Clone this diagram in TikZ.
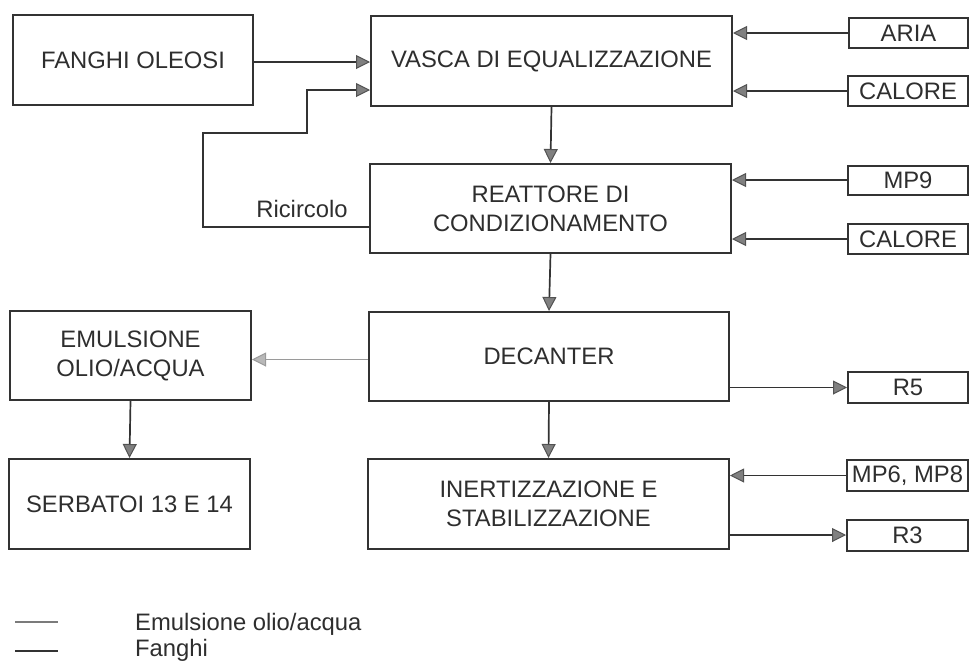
\documentclass[tikz,border=0pt]{standalone}
\usepackage{fontspec}
\setmainfont{Liberation Sans}
\usetikzlibrary{arrows.meta}
\definecolor{ink}{HTML}{333333}
\definecolor{tipfill}{HTML}{808080}
\definecolor{lightink}{HTML}{9A9A9A}
\definecolor{lighttip}{HTML}{B8B8B8}
\tikzset{
  box/.style={draw=ink, line width=2pt, rectangle, align=center, inner sep=0pt,
    font=\fontsize{23.8}{29}\selectfont, text=ink!90!black},
  arr/.style={draw=ink, line width=1.7pt,
    -{Triangle[length=14pt,width=14pt,line width=1pt,color=ink!85,fill=tipfill]}},
  larr/.style={draw=lightink, line width=1.3pt,
    -{Triangle[length=14pt,width=14pt,line width=1pt,color=lightink,fill=lighttip]}},
  lbl/.style={font=\fontsize{23.8}{29}\selectfont, text=ink!90!black, inner sep=0pt},
}
\begin{document}
\begin{tikzpicture}[x=1pt,y=-1pt]
\useasboundingbox (0,0) rectangle (969,662);
% main boxes
\node[box, minimum width=240pt, minimum height=90pt] (fo) at (133,60) {FANGHI OLEOSI};
\node[box, minimum width=361pt, minimum height=90pt] (vasca) at (551.5,61) {VASCA DI EQUALIZZAZIONE};
\node[box, minimum width=361pt, minimum height=89pt] (reat) at (550.5,208.5) {REATTORE DI\\CONDIZIONAMENTO};
\node[box, minimum width=360pt, minimum height=89pt] (dec) at (549,356.5) {DECANTER};
\node[box, minimum width=241pt, minimum height=89pt] (emu) at (130.5,355.5) {EMULSIONE\\OLIO/ACQUA};
\node[box, minimum width=241pt, minimum height=90pt] (serb) at (129.5,504) {SERBATOI 13 E 14};
\node[box, minimum width=361pt, minimum height=90pt] (inert) at (548.5,504) {INERTIZZAZIONE E\\STABILIZZAZIONE};
% side boxes
\node[box, minimum width=119pt, minimum height=30pt] (aria) at (908.5,33) {ARIA};
\node[box, minimum width=120pt, minimum height=30pt] (cal1) at (908,91) {CALORE};
\node[box, minimum width=120pt, minimum height=29pt] (mp9) at (908,180) {MP9};
\node[box, minimum width=120pt, minimum height=30pt] (cal2) at (908,239) {CALORE};
\node[box, minimum width=120pt, minimum height=31pt] (r5) at (908,387.5) {R5};
\node[box, minimum width=121pt, minimum height=31pt] (mp68) at (907.5,475.5) {MP6, MP8};
\node[box, minimum width=121pt, minimum height=31pt] (r3) at (907.5,535) {R3};
% connectors
\draw[arr] ([yshift=-2pt]fo.east) -- ([yshift=-2pt]fo.east -| vasca.west);
\draw[arr] ([yshift=-18.5pt]reat.west) -| (203,133) -| (307,90) -- ([yshift=-29pt]vasca.west);
\node[lbl] (ric) at (302,209) {Ricircolo};
\draw[arr] (aria.west) -- (aria.west -| vasca.east);
\draw[arr] (cal1.west) -- (cal1.west -| vasca.east);
\draw[arr] (vasca.south) -- (reat.north);
\draw[arr] (mp9.west) -- (mp9.west -| reat.east);
\draw[arr] (cal2.west) -- (cal2.west -| reat.east);
\draw[arr] (reat.south) -- (dec.north);
\draw[larr] ([yshift=-3pt]dec.west) -- ([yshift=-3pt]dec.west -| emu.east);
\draw[arr] (emu.south) -- (serb.north);
\draw[arr] (r5.west -| dec.east) -- (r5.west);
\draw[arr] (dec.south) -- (inert.north);
\draw[arr] (mp68.west) -- (mp68.west -| inert.east);
\draw[arr] (r3.west -| inert.east) -- (r3.west);
% legend
\coordinate (l1a) at (15,622); \coordinate (l1b) at (58,622);
\coordinate (l2a) at (15,651); \coordinate (l2b) at (58,651);
\draw[draw=lightink!80!black, line width=1.2pt] (l1a) -- (l1b);
\draw[draw=ink, line width=1.8pt] (l2a) -- (l2b);
\node[lbl, anchor=base west] (leg1) at (135,630) {Emulsione olio/acqua};
\node[lbl, anchor=base west] (leg2) at (135,656) {Fanghi};
\end{tikzpicture}
\end{document}
